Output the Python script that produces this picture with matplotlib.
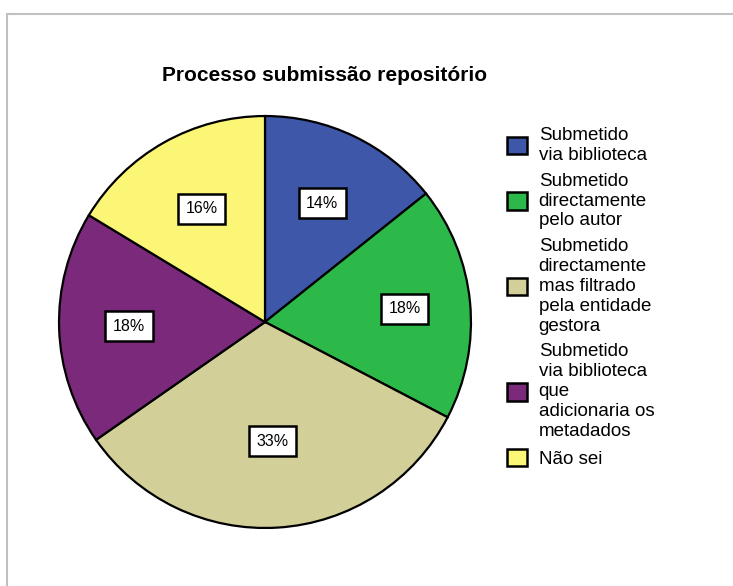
import matplotlib
matplotlib.use('Agg')
import numpy as np
import matplotlib.pyplot as plt
from matplotlib.patches import Rectangle

plt.rcParams['font.family'] = ['Liberation Sans', 'DejaVu Sans']

categorias = ['Submetido\nvia biblioteca',
              'Submetido\ndirectamente\npelo autor',
              'Submetido\ndirectamente\nmas filtrado\npela entidade\ngestora',
              'Submetido\nvia biblioteca\nque\nadicionaria os\nmetadados',
              'Não sei']
respostas = [7, 9, 16, 9, 8]
cores = ['#3f57a8', '#2db84a', '#d3cf98', '#7b2a7b', '#fbf676']

fig = plt.figure(figsize=(7.33, 5.86), dpi=100)
# moldura cinzenta (topo e esquerda)
fig.add_artist(Rectangle((7/733, -0.1), 2, 1.1 - 14/586, transform=fig.transFigure,
                         fill=False, edgecolor='#c0c0c0', lw=1.5))

ax = fig.add_axes([(265 - 207) / 733, 1 - (322 + 207) / 586, 414 / 733, 414 / 586])
wedges, texts, autotexts = ax.pie(
    respostas, colors=cores, startangle=90, counterclock=False,
    autopct='%1.0f%%', pctdistance=0.64,
    wedgeprops=dict(edgecolor='black', linewidth=1.6))
ax.set_xlim(-1.005, 1.005)
ax.set_ylim(-1.005, 1.005)
ax.set_aspect('equal')

# distância radial de cada rótulo
dist_rotulo = [0.64, 0.68, 0.58, 0.66, 0.63]
for w, a, d in zip(wedges, autotexts, dist_rotulo):
    ang = np.deg2rad((w.theta1 + w.theta2) / 2)
    a.set_position((d * np.cos(ang), d * np.sin(ang)))
    a.set_fontsize(11.5)
    a.set_bbox(dict(boxstyle='square,pad=0.47', facecolor='white',
                    edgecolor='black', linewidth=1.8))

fig.text(325 / 733, 1 - 76 / 586, 'Processo submissão repositório',
         ha='center', va='center', fontsize=15, fontweight='bold')

leg = fig.legend(wedges, categorias, loc='upper left',
                 bbox_to_anchor=(507 / 733, 1 - 127 / 586),
                 frameon=False, fontsize=13.5, handlelength=1.07, handleheight=1.07,
                 handletextpad=0.62, labelspacing=0.47, borderaxespad=0,
                 borderpad=0)
for t in leg.get_texts():
    t.set_linespacing(1.22)
for h in leg.legend_handles:
    h.set_linewidth(1.8)

fig.savefig('out.png', dpi=100)
